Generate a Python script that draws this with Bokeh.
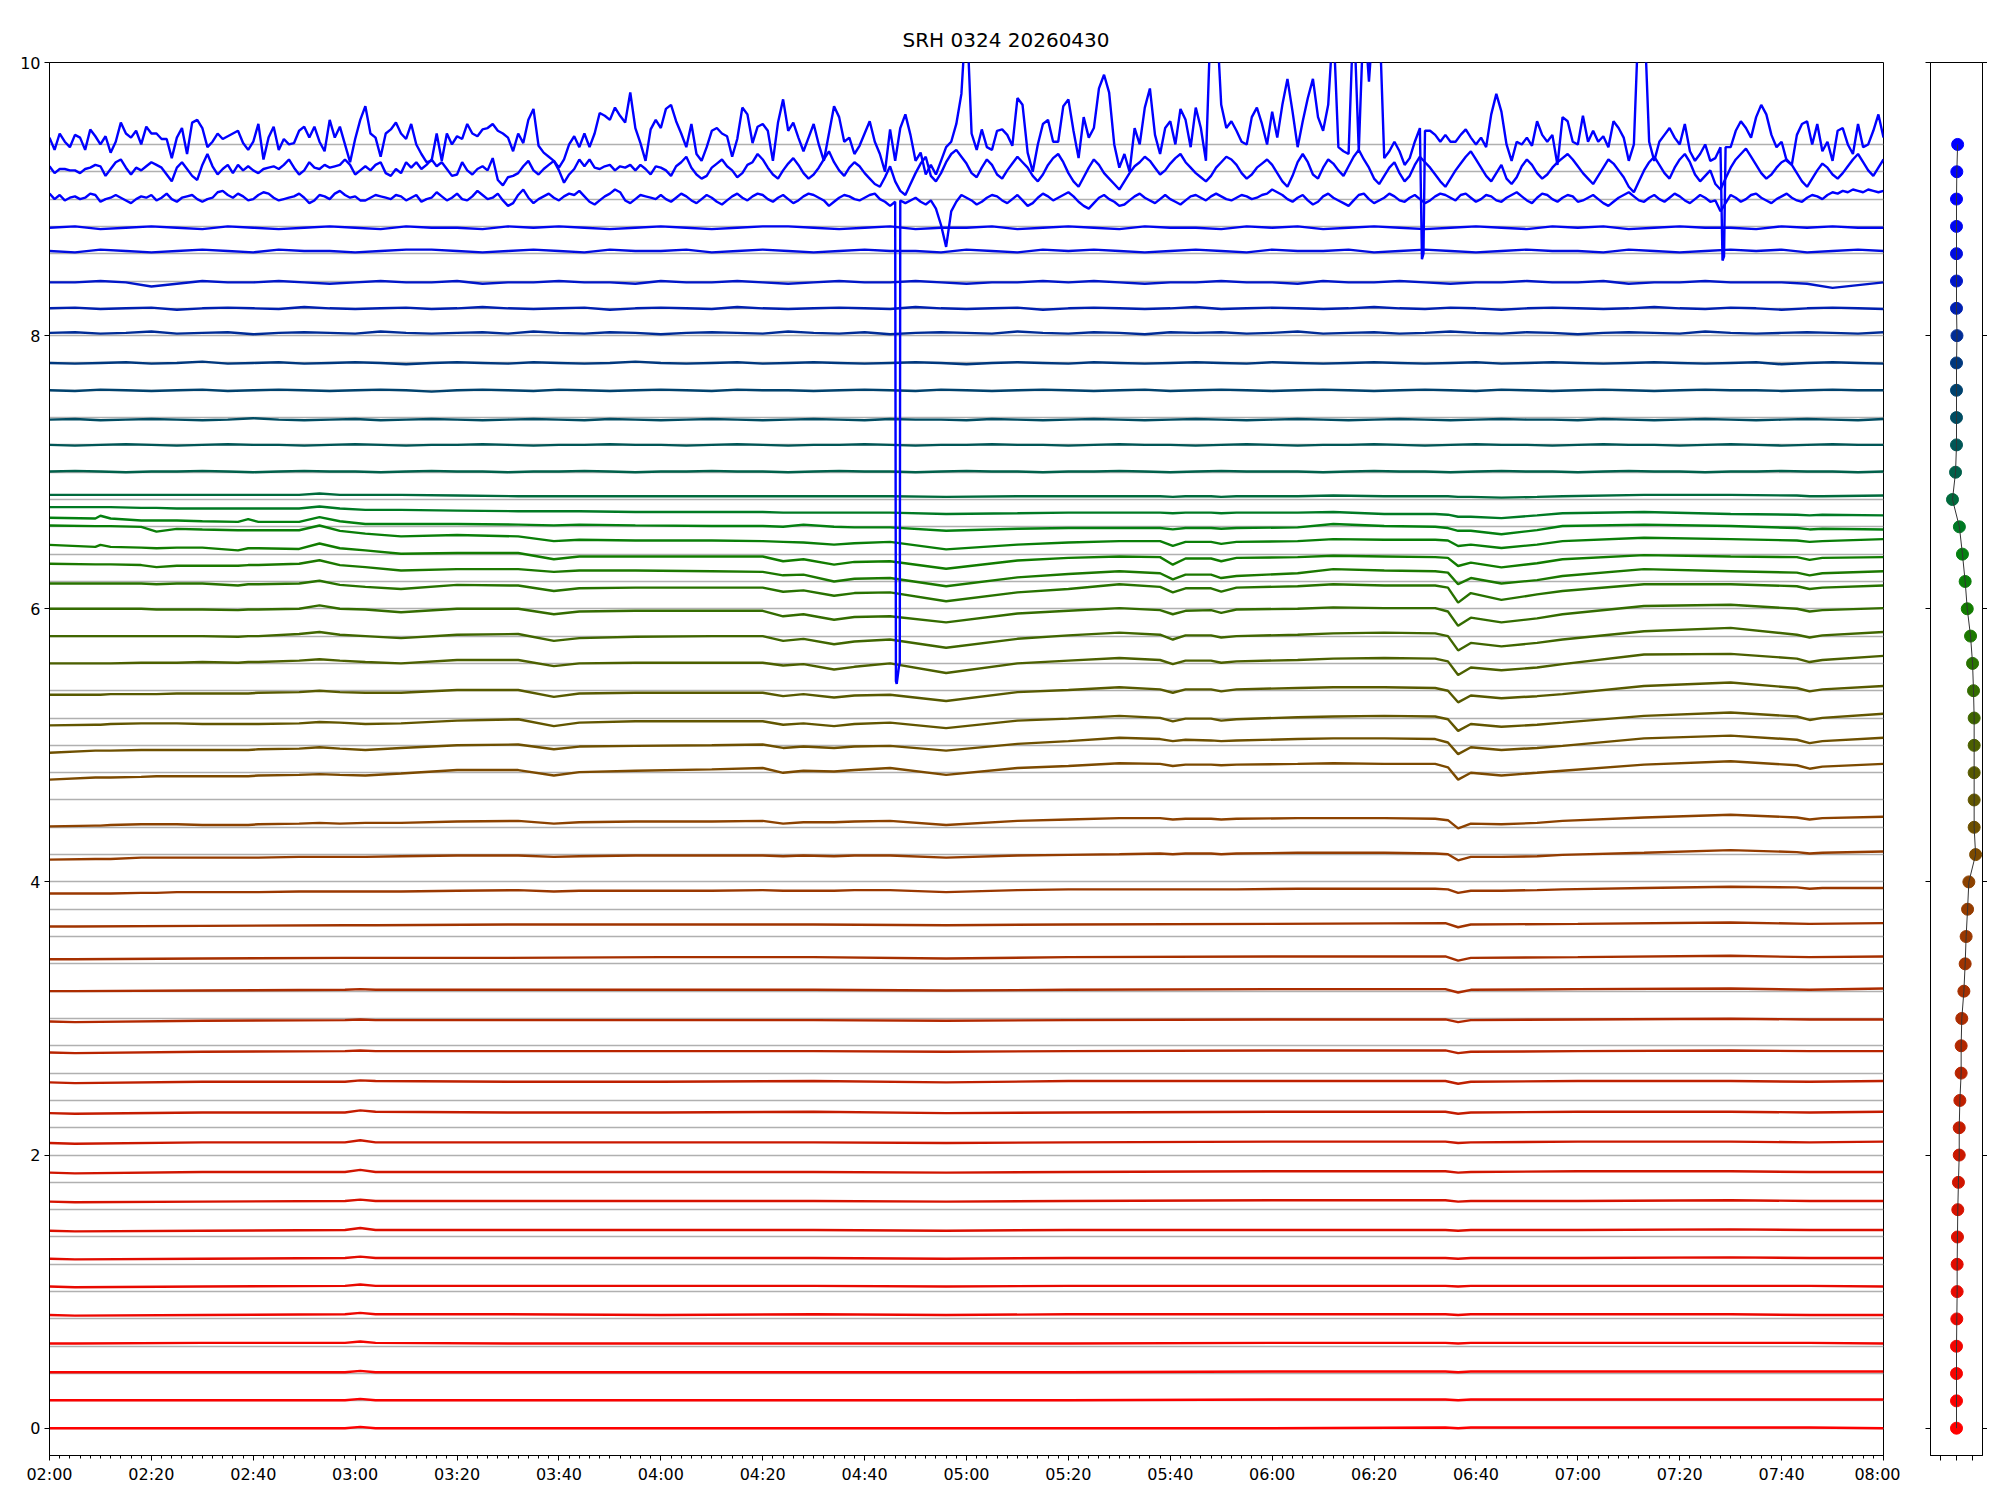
from bokeh.plotting import figure
from bokeh.layouts import row
from bokeh.models import FixedTicker, Range1d, LinearAxis, CustomJSTickFormatter
from bokeh.embed import file_html
from bokeh.resources import INLINE

TITLE = "SRH 0324 20260430"

# x axis: minutes since 00:00
X_TICKS = [120, 140, 160, 180, 200, 220, 240, 260, 280, 300, 320, 340, 360, 380, 400, 420, 440, 460, 480]
X_LABELS = ["02:00", "02:20", "02:40", "03:00", "03:20", "03:40", "04:00", "04:20", "04:40", "05:00",
            "05:20", "05:40", "06:00", "06:20", "06:40", "07:00", "07:20", "07:40", "08:00"]
Y_TICKS = [0, 2, 4, 6, 8, 10]

# channel positions (dots on side panel, horizontal guide lines)
CHANNEL_Y = [0.0, 0.2, 0.4, 0.6, 0.8, 1.0, 1.2, 1.4, 1.6, 1.8, 2.0, 2.2, 2.4, 2.6, 2.8, 3.0,
             3.2, 3.4, 3.6, 3.8, 4.0, 4.2, 4.4, 4.6, 4.8, 5.0, 5.2, 5.4, 5.6, 5.8, 6.0, 6.2,
             6.4, 6.6, 6.8, 7.0, 7.2, 7.4, 7.6, 7.8, 8.0, 8.2, 8.4, 8.6, 8.8, 9.0, 9.2, 9.4]
DOT_X = [0, 0, 0, 0, 0.02, 0.04, 0.04, 0.06, 0.08, 0.12, 0.17, 0.17, 0.21, 0.29, 0.29, 0.33,
         0.46, 0.54, 0.6, 0.69, 0.77, 1.19, 1.1, 1.1, 1.1, 1.1, 1.1, 1.06, 1.0, 0.875, 0.67, 0.54,
         0.37, 0.18, -0.25, -0.06, 0, 0, 0, 0, 0.03, 0, 0, 0, 0, 0, 0.02, 0.07]

COLORS = ["#ff0000", "#fb0100", "#f70300", "#f20500", "#ed0700", "#e80900", "#e20c00", "#dc0f00",
          "#d61200", "#d01500", "#ca1800", "#c41c00", "#be2000", "#b82400", "#b22800", "#ac2c00",
          "#a63000", "#a03400", "#9a3800", "#943c00", "#8c4200", "#7c4a00", "#6e5000", "#625600",
          "#585a00", "#4c6000", "#406600", "#346c00", "#287200", "#1c7800", "#127c00", "#0a7e08",
          "#048010", "#007a24", "#006a3c", "#00604a", "#005656", "#004c62", "#00426e", "#00387e",
          "#002c96", "#0020b0", "#0016c8", "#000ce0", "#0006f0", "#0000ff", "#0000ff", "#0000ff"]

# ---- channels 0..17 : quiet traces, values in 0.01 relative to level at 02:00
LOW_T = [0, 5, 30, 58, 61, 64, 90, 120, 150, 176, 200, 240, 274, 276.5, 279, 300, 330, 345.5, 360]
LOW_BASE = [0.0, 0.205, 0.41, 0.62, 0.829, 1.037, 1.241, 1.446, 1.659, 1.871, 2.088, 2.307,
            2.532, 2.751, 2.978, 3.20, 3.434, 3.673]
LOW_DEV = [
    [0, 0, 0, 0, 1, 0, 0, 0, 0, 0, 0, 0, 0.5, 0, 0.5, 0.5, 0.5, 0.5, 0],
    [0, 0, 0, 0, 1, 0, 0, 0, 0, 0, 0, 0.5, 0.5, 0, 0.5, 0.5, 0.5, 0.5, 0.5],
    [0, 0, 0, 0, 1, 0, 0, 0, 0, 0, 0, 0.5, 0.5, 0, 0.5, 0.5, 0.5, 0.5, 0.5],
    [0, 0, 0.5, 0.5, 1.5, 0.5, 0, 0, 0, 0, 0, 0.5, 0.5, 0, 0.5, 0.5, 0.5, 0.5, 0],
    [0, -0.5, 0, 0.5, 1.5, 0.5, 0.5, 0, 0.5, 0, 0.5, 0.5, 0.5, 0, 0.5, 0.5, 0.5, 0, 0],
    [0, -0.5, 0, 0.5, 1.5, 0.5, 0.5, 0.5, 0.5, 0, 0.5, 0.5, 0.5, 0, 0.5, 0.5, 0.5, 0.5, 0],
    [0, -0.5, 0, 0.5, 1.5, 0.5, 0.5, 0.5, 0.5, 0, 0.5, 0.5, 0.5, 0, 0.5, 0.5, 1, 0.5, 0.5],
    [0, -0.5, 0, 0.5, 2, 0.5, 0.5, 0.5, 0.5, 0, 0.5, 0.5, 0.5, 0, 0.5, 0.5, 1, 0.5, 0.5],
    [0, -0.5, 0, 0.5, 1.5, 0.5, 0.5, 0.5, 0.5, 0, 0.5, 1, 1, 0, 0.5, 0.5, 1, 0.5, 0.5],
    [0, -0.5, 0.5, 0.5, 2, 0.5, 0.5, 0.5, 0.5, 0, 0.5, 1, 1, 0, 0.5, 1, 1, 0.5, 0.5],
    [0, -0.5, 0.5, 0.5, 2, 0.5, 0.5, 0.5, 0.5, 0, 0.5, 1, 1, 0, 0.5, 1, 1, 0.5, 1],
    [0, -0.5, 0.5, 0.5, 2, 1, 0.5, 0.5, 1, 0, 0.5, 1, 1, -0.5, 0.5, 1, 1, 0.5, 1],
    [0, -0.5, 0.5, 0.5, 1.5, 1, 0.5, 0.5, 1, 0, 1, 1, 1, -1, 0.5, 1, 1, 0.5, 1],
    [0, -0.5, 0.5, 1, 1.5, 1, 1, 1, 1, 0.5, 1, 1.5, 1.5, -0.5, 0.5, 1, 1.5, 1, 1],
    [0, -0.5, 0.5, 1, 1.5, 1, 1, 1, 1, 0.5, 1, 1.5, 1.5, -0.5, 1, 1.5, 2, 1.5, 1.5],
    [0, 0, 0.5, 1, 1.5, 1, 1, 1, 1, 0.5, 1, 1.5, 1.5, -1, 1, 1.5, 2, 1, 2],
    [0, 0, 0.5, 1, 1, 1, 1, 1.5, 1.5, 0.5, 1.5, 2, 2, -1, 1, 1.5, 2.5, 1.5, 2],
    [0, 0, 0.5, 1, 1, 1, 1.5, 1.5, 1.5, 1, 1.5, 2, 2.5, -0.5, 1.5, 2, 3, 2, 2.5],
]

# ---- channels 18..34 : traces with the dips, values in 0.01 relative to level at 02:00
GREEN_T = [0, 9, 10, 12, 18, 21, 25, 30, 37, 39, 41, 49, 53, 57, 62, 69, 80, 92, 99, 104,
           115, 130, 140, 144, 148, 154, 158, 165, 176, 190, 200, 210, 218, 220.5, 223, 228, 230,
           233, 245, 252, 262, 272, 274.5, 276.5, 279, 285, 292, 297, 313, 330, 343, 345.5, 348, 360]
GREEN_BASE = [3.915, 4.163, 4.407, 4.749, 4.946, 5.146, 5.37, 5.60, 5.80, 6.00, 6.185, 6.33,
              6.468, 6.61, 6.666, 6.744, 6.834]
GREEN_DEV = [
    [0, 0, 0, 0, 0.5, 0.5, 1, 1, 1, 1, 1, 1.5, 1.5, 1.5, 1.5, 1.5, 2, 2.5, 1.5, 2, 2, 2, 2.5, 2, 2, 2, 2.5, 2.5, 1, 2.5,
     3, 3, 3, 3, 3, 3, 3, 3, 3.5, 3.5, 3.5, 3.5, 3, 0.5, 2, 2, 2.5, 3, 4, 5, 4.5, 3.5, 4, 4],
    [0, 0.5, 0.5, 0.5, 1.5, 1.5, 1.5, 1.5, 1.5, 1.5, 1.5, 2, 2, 2, 2, 2.5, 3, 3, 2, 2.5, 3, 3, 3, 2.5, 3, 2.5, 3, 3, 1.5, 3,
     3.5, 4, 4.5, 4, 4.5, 4.5, 4, 4.5, 5, 5, 5, 4.5, 4, -0.5, 2, 2, 2.5, 3.5, 5, 7, 5.5, 4.5, 5, 6],
    [0, 0.5, 0.5, 1, 1.5, 1.5, 1.5, 1, 1, 1, 1.5, 2, 2.5, 2, 2.5, 2.5, 3.5, 4, 2, 3, 3.5, 3.5, 4, 2, 3, 3, 3.5, 4, 1, 4,
     5, 6, 6, 5, 5.5, 5.5, 5, 5.5, 6, 6, 6, 5.5, 4.5, -1.5, 2, 1.5, 2.5, 4, 6.5, 8.5, 6.5, 5, 6, 7],
    [0, 1.5, 1.5, 1.5, 2, 2.5, 2.5, 2.5, 2.5, 2.5, 3, 3.5, 4, 3.5, 3, 4.5, 7, 7, 3, 5.5, 6.5, 7.5, 8.5, 5, 6.5, 6, 7, 8.5, 3.5, 8.5,
     10, 12, 11.5, 10, 11, 11, 10.5, 11, 11.5, 12, 11.5, 11.5, 9, 0, 5, 3, 5, 6.5, 11, 13.5, 10.5, 8, 9.5, 11.5],
    [0, 1.5, 1.5, 1.5, 2, 2, 2, 2, 2, 2, 2.5, 3, 4, 3, 2, 3.5, 5.5, 6, 2.5, 4.5, 5, 5.5, 6, 3.5, 4.5, 3.5, 4.5, 5, 1.5, 6.5,
     8.5, 11, 10, 8.5, 9.5, 9, 8.5, 9, 10, 10.5, 10.5, 10, 7.5, -1, 4, 2, 3.5, 5, 10.5, 12.5, 9.5, 7, 8.5, 11],
    [0, 0.5, 0.5, 1, 1.5, 1.5, 1.5, 1, 1, 1, 1, 1.5, 2.5, 2, 1, 1.5, 3.5, 4.5, -0.5, 2, 3, 3, 3, 0.5, 1.5, -0.5, 1, 2, -2, 3.5,
     5, 7, 5.5, 3, 5, 5, 3.5, 4.5, 6, 6.5, 7, 6.5, 4.5, -4, 1, -1, 0.5, 2, 7, 9.5, 6.5, 4, 5.5, 8.5],
    [0, 0, 0, 0.5, 0.5, 0.5, 1, 1, 1, 1, 1.5, 2, 3, 2, 1.5, 1.5, 3.5, 3.5, -1.5, 1, 1.5, 1.5, 1.5, -1, 0.5, -2, -0.5, 0, -4.5, 2,
     3.5, 5.5, 4, 1.5, 4, 4, 2.5, 4, 5, 5.5, 5.5, 5, 3, -5.5, -0.5, -2.5, -1, 0.5, 6.5, 9, 5, 2.5, 4, 6.5],
    [0, 0, 0, 0, 0.5, 0.5, 0.5, 1, 0.5, 1, 1, 2, 3, 2, 1, 0, 2.5, 2.5, -2, 0, 0.5, 0.5, 0.5, -1.5, -0.5, -4.5, -2.5, 0, -7, 0,
     2, 4, 2.5, -0.5, 2, 2, 0.5, 1.5, 2.5, 3.5, 4, 3.5, 1.5, -8.5, -3, -5, -3, -0.5, 6.5, 7, 3.5, 1, 2.5, 5.5],
    [0, 0, 0, 0, 0, 0, 0, 0, -0.5, 0, 0, 1.5, 3, 1, 0, -1.5, 1, 1.5, -3.5, -1.5, -0.5, 0, 0, -3.5, -2, -6, -4, -2.5, -8.5, -2,
     0.5, 2.5, 1, -2.5, 0.5, 0.5, -1, 0, 1, 2, 2.5, 2, 0, -10.5, -5, -7.5, -5, -2.5, 3.5, 6, 1, -1, 0.5, 3],
    [0, 0, 0, 0, 0, -0.5, -0.5, -0.5, -1, -0.5, -0.5, 0, 2.5, 0, -0.5, -2.5, 0, 0, -4, -2, -1.5, -1.5, -1.5, -5.5, -4, -8, -6, -5.5, -10, -3.5,
     -1.5, 0.5, -1, -4, -1.5, -1, -3, -0.5, 0, 1, 0.5, 0.5, -2, -12.5, -6.5, -10, -7, -4, 2, 3, 0, -2, -1, 0.5],
    [0, 0, 0, 0, 0, -0.5, 0, 0, -1.5, -0.5, -0.5, 0, 2, -1, -2.5, -4, -1, -1.5, -5.5, -3.5, -3, -3, -3, -6, -5, -9, -7, -6.5, -13, -6.5,
     -4, -0.5, -2.5, -6.5, -3.5, -3.5, -6, -3, -2, -0.5, -1.5, -1.5, -3, -14, -7, -12, -8, -5.5, -0.5, -0.5, -2, -4, -3, -1.5],
    [0, -0.5, -0.5, -0.5, -1, -2.5, -1.5, -1.5, -1.5, -1, -1, 0, 2.5, -1, -2.5, -5, -4, -4, -6, -5, -5, -5.5, -6, -8.5, -8, -13, -11, -10.5, -16.5, -10,
     -7.5, -5.5, -7, -11.5, -8, -8, -10.5, -9, -7, -4, -5, -5.5, -6.5, -15, -10.5, -14.5, -12, -9, -4, -5.5, -6.5, -8.5, -7, -5.5],
    [0, -1.5, 0, -1.5, -2, -2.5, -2, -2, -4, -2.5, -2.5, -3, 1, -2.5, -4, -6.5, -6, -6, -10.5, -8.5, -8.5, -8.5, -8.5, -12, -10.5, -14.5, -12.5, -12, -17.5, -11.5,
     -9.5, -8.5, -9, -14.5, -10, -10, -12, -9.5, -9, -8, -8.5, -9, -9.5, -15.5, -13, -16.5, -13.5, -10.5, -7.5, -8.5, -9, -11, -9.5, -9],
    [0, -0.5, -0.5, -0.5, -1, -4.5, -2.5, -3, -3.5, -3.5, -3.5, -3.5, 0, -4, -6, -8, -7, -8, -11.5, -10.5, -11, -11, -11.5, -12, -12.5, -14, -13, -12, -17.5, -14,
     -12.5, -11.5, -11.5, -15, -12, -12, -13.5, -12, -11.5, -10, -10.5, -10.5, -11, -15, -14, -16.5, -14, -11.5, -9, -10, -11, -12, -11.5, -10],
    [0, -0.5, 1.5, -0.5, -2, -2, -2, -2.5, -3, -1, -3, -3, 0.5, -2.5, -4.5, -4.5, -4.5, -5, -5.5, -5, -5.5, -6, -6, -6.5, -5, -6.5, -7, -7, -9.5, -8,
     -7.5, -7.5, -7.5, -8.5, -7.5, -7.5, -8, -7.5, -7, -4.5, -6, -6.5, -7.5, -9.5, -9.5, -12, -9, -6, -5, -6, -7.5, -8.5, -8, -8.5],
    [0, 0, 0, 0, -0.5, -0.5, -1, -1, -1, -1, -1, -1, 0.5, -1, -2, -2, -2.5, -3, -3, -3, -3.5, -3.5, -3.5, -4, -4, -4, -4, -4, -5, -4.5,
     -4, -4, -4, -4.5, -4, -4, -4.5, -4, -4, -3.5, -5, -5, -5.5, -7, -7, -8, -6, -4.5, -3.5, -5, -5.5, -6, -5.5, -6],
    [0, 0, 0, 0, 0, 0, 0, 0, 0, 0, 0, 0, 1, 0, 0, 0, -0.5, -1, -1, -1, -1, -1, -1, -1, -1, -1, -1, -1, -1.5, -1,
     -1, -1, -1, -1.5, -1, -1, -1.5, -1, -1, -0.5, -1, -1, -1, -1.5, -1.5, -2, -1.5, -1, 0, 0, -0.5, -1, -1, -0.5],
]

# ---- channels 35..44 : small wiggles, one value every 5 minutes from 02:00 (0.01 units)
MID_STEP = 5
MID_BASE = [7.005, 7.20, 7.385, 7.60, 7.80, 8.02, 8.20, 8.39, 8.62, 8.79]
MID_DEV = [
    [0, 0.5, 0, -0.5, 0, 0, 0.5, 0, -0.5, 0, 0.5, 0, 0, -0.5, 0, 0.5, 0, 0, -0.5, 0, 0, 0.5, 0, -0.5, 0, 0, 0.5, 0, 0, -0.5,
     0, 0.5, 0, 0, -0.5, 0, 0.5, 0, 0, -0.5, 0, 0, 0.5, 0, -0.5, 0, 0.5, 0, 0, 0, -0.5, 0, 0.5, 0, 0, -0.5, 0, 0.5, 0, 0,
     -0.5, 0, 0.5, 0, 0, -0.5, 0, 0, 0.5, 0, 0, -0.5, 0],
    [0, -0.5, 0, 0.5, 0, -0.5, 0, 0.5, 0, 0, -0.5, 0, 0.5, 0, -0.5, 0, 0, 0.5, 0, -0.5, 0, 0, 0.5, 0, 0, -0.5, 0, 0.5, 0, -0.5,
     0, 0, 0.5, 0, -0.5, 0, 0, 0.5, 0, 0, -0.5, 0, 0.5, 0, 0, -0.5, 0, 0.5, 0, -0.5, 0, 0, 0.5, 0, -0.5, 0, 0.5, 0, 0, -0.5,
     0, 0.5, 0, 0, -0.5, 0, 0.5, 0, -0.5, 0, 0.5, 0, 0],
    [0, 0.5, -0.5, 0, 0.5, 0, -0.5, 0, 1, 0, -0.5, 0, 0.5, -0.5, 0, 0.5, 0, -0.5, 0, 0.5, 0, -0.5, 0.5, 0, -0.5, 0, 0.5, 0, -0.5, 0,
     0.5, 0, -0.5, 0.5, 0, 0, -0.5, 0.5, 0, -0.5, 0, 0.5, 0, -0.5, 0, 0.5, 0, -0.5, 0, 0.5, 0, -0.5, 0, 0.5, 0, -0.5, 0, 0.5, 0, 0,
     -0.5, 0.5, 0, -0.5, 0, 0.5, 0, -0.5, 0, 0.5, 0, -0.5, 0.5],
    [0, -0.5, 0.5, 0, -0.5, 0, 0.5, -0.5, 0, 0.5, 0, -0.5, 0, 0.5, 0, -1, 0, 0.5, 0, -0.5, 0.5, 0, -0.5, 0, 0.5, 0, -0.5, 0.5, 0, 0,
     -0.5, 0, 0.5, 0, -0.5, 0.5, 0, -0.5, 0, 0.5, 0, -0.5, 0, 0.5, -0.5, 0, 0.5, 0, -0.5, 0, 0.5, 0, -0.5, 0, 0.5, 0, -0.5, 0.5, 0, -0.5,
     0, 0.5, 0, -0.5, 0, 0.5, 0, 0, -0.5, 0, 0.5, 0, 0],
    [0, -0.5, 0, 0.5, -0.5, 0, 1, -0.5, 0, 0.5, -0.5, 0, 0.5, 0, -1, 0, 0.5, 0, -0.5, 0.5, 0, -0.5, 0, 1, 0, -0.5, 0, 0.5, -0.5, 0,
     0.5, 0, -0.5, 0, 0.5, 0, -1, 0, 0.5, 0, -0.5, 0.5, 0, -0.5, 0, 0.5, 0, -0.5, 0.5, 0, -0.5, 0, 0.5, 0, -0.5, 0, 0.5, -0.5, 0, 0.5,
     0, -0.5, 0, 0.5, 0, -0.5, 0, 0.5, -1, 0, 0.5, 0, -0.5],
    [0, 0.5, -0.5, 0, 1, -0.5, 0, 0.5, -1, 0, 0.5, 0, -0.5, 1, 0, -0.5, 0, 0.5, -0.5, 1, 0, -0.5, 0.5, 0, -1, 0, 0.5, 0, -0.5, 1,
     0, -0.5, 0.5, -1, 0, 0.5, 0, -0.5, 1, 0, -0.5, 0.5, 0, -1, 0.5, 0, 0.5, -0.5, 0, 1, -0.5, 0, 0.5, -0.5, 0, 1, 0, -0.5, 0.5, 0,
     -1, 0, 0.5, 0, -0.5, 1, 0, -0.5, 0, 0.5, 0, -0.5, 0.5],
    [0, 0.5, -0.5, 0, 0.5, -1, 0, 0.5, 0, -0.5, 1, 0, -0.5, 0, 0.5, -0.5, 0, 1, 0, -0.5, 0, 0.5, -1, 0, 0.5, 0, -0.5, 1, 0, -0.5,
     0, 0.5, 0, -0.5, 1, 0, -0.5, 0, 0.5, -1, 0, 0.5, 0, -0.5, 0, 1, -0.5, 0, 0.5, 0, -0.5, 0, 1, 0, -0.5, 0.5, 0, -1, 0, 0.5,
     0, -0.5, 0, 1, 0, -0.5, 0.5, 0, -1, 0, 0.5, 0, -0.5],
    [0, 0, 1, 0, -3, -1, 1, 0, 0, 1, 0, -1, 0, 1, 0, 0, 1, -1, 0, 0, 1, 0, 0, -1, 1, 0, 0, 1, 0, -1,
     0, 1, 0, 0, 1, 0, -1, 0, 0, 1, 0, 1, 0, -1, 0, 0, 1, 0, 0, -1, 1, 0, 0, 1, 0, -1, 0, 0, 1, 0,
     0, 1, -1, 0, 0, 1, 0, 0, 0, -1, -4, -2, 0],
    [0, -1, 1, 0, -1, 0, 1, 0, -1, 1, 0, 0, -1, 0, 1, 1, 0, -1, 0, 1, 0, -1, 1, 0, 0, 1, -1, 0, 1, 0,
     -1, 0, 1, 0, 0, -1, 1, 0, -1, 1, 0, 1, 0, -1, 0, 1, 0, -1, 1, 0, 0, 1, -1, 0, 1, 0, -1, 0, 1, 0,
     0, -1, 1, 0, -1, 0, 1, 0, 1, -1, 0, 1, 0],
    [0, 1, -1, 0, 1, 0, -1, 1, 0, -1, 0, 1, 0, -1, 1, 0, 0, -1, 1, 0, 1, 0, -1, 0, 1, 0, -1, 0, 1, 1,
     0, -1, 0, 1, -1, 0, 0, 1, -1, 0, 1, 0, -1, 1, 0, 0, -1, 1, 0, 1, -1, 0, 1, 0, -1, 0, 1, 0, -1, 1,
     0, 1, -1, 0, 1, 0, 0, -1, 1, 0, 1, 0, 0],
]

# ---- channels 45..47 : noisy traces, one value per minute (0.01 units), three 2-hour parts
FINE_BASE = [9.01, 9.21, 9.40]
CH45_A = [3, -1, 2, -2, 0, 1, -1, 0, 3, 2, -3, -1, 0, 2, 0, -2, -4, -1, 1, 0, 2, -2, 0, 3, -1, -3, 0, 1, 2, -1,
          -3, -1, 0, 4, 5, 2, 0, 3, 1, -2, -1, 2, 4, 3, 0, -2, -1, 0, 1, 3, 0, -4, -2, 2, 1, -1, 3, 5, 2, 0,
          1, -2, -2, 0, 2, 1, 0, -1, 2, 1, -2, 0, 2, -3, -1, 0, 4, 1, -2, 0, 3, -1, -2, 1, 5, 2, -1, 0, 3, -2,
          -6, -4, 2, 6, 0, -4, -1, 1, 3, 0, -2, 1, 3, 2, 5, 1, -3, -5, -2, 1, 3, 6, 4, -2, -4, -1, 2, 1, 0, -1]
CH45_B = [2, -1, -3, 0, 3, 1, -2, -4, -1, 2, 0, -3, -5, -2, 1, 3, 0, -2, 1, 3, 2, -1, -3, 0, 2, -1, -4, -2, 1, 3,
          2, 0, -2, -6, -3, 0, 2, 1, -1, -2, 0, 2, 3, -1, -3, -6, -3, -2, -4, -2, 0, -3, -5, -2, -8, -20, -36, -10, -3, 2,
          0, -2, -5, -3, 0, 2, 1, -2, -4, -1, 2, -2, -6, -4, 0, 3, 1, -2, 0, 2, 4, 1, -3, -6, -8, -4, 0, 2, -1, -3,
          -6, -5, -2, 1, 3, 0, -2, -4, -1, 2, -1, -3, -5, -2, 1, 2, 0, -2, 1, 3, 1, -1, -2, 0, 2, 1, -1, 0, 2, 3]
CH45_C = [6, 4, 2, -1, -3, 0, 2, -2, -5, -3, 1, 3, 0, -2, -4, -6, -2, 2, 3, -1, -4, -2, 0, 3, 1, -2, -3, 0, 2, -1,
          -4, -2, 1, 3, 2, 0, -2, 2, 3, 0, -3, -1, 2, 1, -2, -3, 0, 2, 4, 1, -2, -4, 0, 3, 2, -1, -3, 0, 2, 1,
          -3, -2, 0, 2, -1, -4, -6, -3, 0, 2, 4, 1, -2, -3, 0, 2, -1, -3, 0, 3, 1, -2, -4, -1, 2, 0, -3, -2, -10, -4,
          2, 0, -3, -1, 2, 3, 0, -2, -4, -1, 1, 3, 0, -2, -3, 0, 2, 1, -1, 2, 4, 3, 5, 4, 6, 5, 4, 6, 5, 4, 5]
CH46_A = [3, -2, 1, 1, 0, 0, -2, 1, 2, 4, 3, -4, 1, 6, 8, 2, -3, 2, 0, 3, 6, 4, 2, -3, -8, 2, 6, 1, -4, -7,
          4, 12, 3, -3, 1, 4, -2, 4, 0, 3, 0, -2, 1, 2, 3, 1, 4, 8, 2, -3, 0, 6, 2, 1, 4, 2, 3, 4, 8, 4,
          -3, 0, 3, 0, 4, 6, -2, -4, 1, -2, 6, 2, 6, 1, 4, 8, 3, 6, 1, -4, -3, 6, 0, -3, 1, 3, 0, 9, -7, -11,
          -5, -4, -2, 3, 7, 0, -3, 1, 4, 7, 0, -9, -3, 1, 8, 3, 8, 2, 1, 3, 4, 0, 3, 2, 4, 0, 4, 1, -3, 3]
CH46_B = [2, 0, -4, 3, 6, 10, 2, -3, -6, -4, 2, 5, 8, 3, 0, -5, -2, 4, 6, 12, 8, 2, -3, -6, 0, 5, 9, 4, -2, -6,
          -3, 2, 8, 14, 6, 0, -4, 2, 6, 3, -2, -6, -10, -12, -5, 3, -8, -15, -18, -10, -2, 5, 10, -4, -8, -2, 6, 12, 15, 10,
          5, -2, -5, 2, 8, 4, -3, -6, 0, 5, 10, 6, 2, -4, -8, -3, 4, 9, 12, 6, -2, -8, -12, -5, 2, 8, 4, -2, -6, -10,
          -14, -8, -2, 3, 6, 10, 7, 2, -3, 0, 5, 9, 12, 6, 2, -2, -5, -8, -4, 2, 6, 10, 8, 4, -2, -6, -3, 2, 5, 8]
CH46_C = [4, -2, -8, -12, -4, 6, 12, 6, -3, -6, 2, 8, 5, 0, -4, 3, 10, 15, 8, 2, -6, -10, -4, 2, 6, -2, -8, -4, 4, 10,
          6, 2, -3, -8, -12, -6, 0, 5, 10, 14, 8, 2, -4, -8, -2, 4, -6, -10, -5, 3, 8, 4, -2, -6, -3, 2, 6, 9, 12, 8,
          3, -2, -6, -10, -4, 2, 8, 5, 0, -5, -12, -16, -8, 0, 6, 10, 4, -2, -6, 2, 8, 12, 6, -3, -8, -4, 0, -10, -14, -6,
          2, 8, 12, 16, 10, 4, -2, -6, -3, 2, 6, 8, 4, -2, -8, -12, -6, 0, 5, 2, -3, -6, -2, 3, 8, 12, 6, 0, -4, 2, 8]
CH47_A = [5, -4, 8, 2, -2, 7, 5, -4, 11, 6, 0, 6, -6, 2, 16, 8, 5, 10, 0, 13, 8, 8, 4, 4, -10, 5, 12, -7, 16, 18,
          12, -2, 2, 8, 4, 6, 8, 10, 1, -4, 2, 15, -11, 5, 13, -4, 4, 0, 1, 10, 13, 5, 13, 2, -5, 18, 5, 13, 0, -13,
          4, 18, 28, 8, 5, -9, 8, 11, 16, 8, 4, 15, 0, -7, -13, -12, 8, -12, 8, 0, 6, 4, 15, 8, 6, 11, 12, 15, 10, 8,
          5, -5, 8, 1, 18, 26, -1, -6, -9, -12, -17, -11, 0, 6, -2, 8, -2, 8, 23, 21, 18, 27, 21, 16, 38, 12, 1, -12, 11, 18]
CH47_B = [12, 26, 29, 17, 8, -2, 15, -7, -12, -2, 10, 12, 8, 6, -9, 4, 27, 22, 1, 13, 15, 10, -12, 16, 33, 10, 16, 5, -5, 5,
          15, 0, -12, 8, 28, 20, 2, 5, -7, -1, 8, 17, 2, -7, -20, 11, -12, 12, 22, 7, -12, -6, -22, -15, -22, -12, -2, 2, 15, 37,
          100, 8, -4, 11, -2, -4, 10, 11, 7, -1, 34, 29, -6, -20, 0, 15, 18, 2, 2, 28, 33, 10, -10, 20, 5, 12, 41, 51, 38, 0,
          -17, -7, -20, 12, 0, 27, 41, 7, -7, 12, 17, 0, 26, 18, -2, 27, 12, -12, 100, 100, 29, 12, 17, 10, 2, 0, 20, 27, 15, 0]
CH47_C = [24, 5, 29, 48, 24, -2, 17, 34, 48, 20, 10, 29, 90, -2, -5, -7, 100, -5, 100, 46, 100, 100, -10, -5, 2, -5, -15, -10, 2, 12,
          10, 10, 7, 2, 7, 2, 2, 7, 11, 5, 0, 5, -2, 22, 37, 24, 0, -12, 2, 0, 5, -1, 17, 7, 2, 7, -15, 20, 17, 2,
          0, 21, 2, 10, 2, 6, -2, 17, 12, 5, -12, 0, 100, 100, 2, -12, 2, 7, 12, 5, 0, 15, -5, -12, -7, 0, -12, -10, -2, -2,
          -2, 10, 17, 12, 5, 20, 29, 22, 7, -2, 2, -12, -15, 7, 15, 17, 0, 15, -5, 2, -12, 10, 12, 0, -7, 15, -2, 0, 10, 22, 5]

# short excursions read between grid points: (channel, minutes after 02:00, value in 0.01)
EVENTS = [(45, 166.15, -354), (45, 166.3, -356), (45, 166.75, -343), (45, 166.9, -341),
          (47, 269.4, -84), (47, 269.7, -80), (47, 328.4, -85), (47, 328.7, -82)]

FONT = "DejaVu Sans"
T0 = 120  # 02:00 in minutes since midnight

# ------------------------------------------------------------------ build series
BASES = LOW_BASE + GREEN_BASE + MID_BASE + FINE_BASE
series = []
for devs in LOW_DEV:
    series.append([[T0 + t for t in LOW_T], list(devs)])
for devs in GREEN_DEV:
    series.append([[T0 + t for t in GREEN_T], list(devs)])
for devs in MID_DEV:
    series.append([[T0 + MID_STEP * k for k in range(len(devs))], list(devs)])
for parts in ((CH45_A, CH45_B, CH45_C), (CH46_A, CH46_B, CH46_C), (CH47_A, CH47_B, CH47_C)):
    xs, ds = [], []
    for start, part in zip((0, 120, 240), parts):
        xs += [T0 + start + k for k in range(len(part))]
        ds += list(part)
    series.append([xs, ds])
for ch, t, d in EVENTS:
    series[ch][0].append(T0 + t)
    series[ch][1].append(d)

# ------------------------------------------------------------------ main figure
p = figure(frame_width=1834, frame_height=1393,
           x_range=Range1d(120, 480), y_range=Range1d(-0.2, 10),
           output_backend="svg", toolbar_location=None, title=TITLE,
           min_border_left=49, min_border_right=17, min_border_top=62, min_border_bottom=30)
# the title is centred on the whole picture, not on the plot frame
p.title.align = "left"
p.title.offset = 853
p.title.text_font = FONT
p.title.text_font_size = "20px"
p.title.text_font_style = "normal"
p.title.text_color = "black"
p.title.standoff = 21

p.xaxis.ticker = FixedTicker(ticks=X_TICKS, minor_ticks=list(range(120, 481, 2)))
p.xaxis.major_label_overrides = dict(zip(X_TICKS, X_LABELS))
p.yaxis.ticker = FixedTicker(ticks=Y_TICKS)
for ax in (p.xaxis, p.yaxis):
    ax.major_label_text_font = FONT
    ax.major_label_text_font_size = "16px"
    ax.major_label_text_color = "black"
    ax.axis_line_color = "black"
    ax.major_tick_line_color = "black"
    ax.minor_tick_line_color = "black"
    ax.major_tick_in = 0
    ax.major_tick_out = 5
    ax.minor_tick_in = 0
    ax.minor_tick_out = 3
    ax.major_label_standoff = 4
p.yaxis.minor_tick_line_color = None
p.xgrid.visible = False
p.ygrid.ticker = FixedTicker(ticks=CHANNEL_Y)
p.ygrid.grid_line_color = "#b0b0b0"
p.ygrid.grid_line_width = 1.3
p.outline_line_color = "black"
p.outline_line_width = 1
p.background_fill_color = "white"
p.border_fill_color = "white"

for ch, (xs, ds) in enumerate(series):
    pairs = sorted(zip(xs, ds), key=lambda q: q[0])
    x = [q[0] for q in pairs]
    y = [BASES[ch] + q[1] / 100.0 for q in pairs]
    p.line(x, y, line_color=COLORS[ch], line_width=2.4)

# ------------------------------------------------------------------ side panel
blank = CustomJSTickFormatter(code="return ''")
p2 = figure(frame_width=52, frame_height=1393,
            x_range=Range1d(-1.62, 1.62), y_range=Range1d(-0.2, 10),
            output_backend="svg", toolbar_location=None,
            min_border_left=30, min_border_right=0, min_border_top=62, min_border_bottom=30)
p2.xaxis.ticker = FixedTicker(ticks=[-1, 0, 1])
p2.yaxis.ticker = FixedTicker(ticks=Y_TICKS)
p2.add_layout(LinearAxis(ticker=FixedTicker(ticks=Y_TICKS)), "right")
for ax in p2.axis:
    ax.formatter = blank
    ax.axis_line_color = "black"
    ax.major_tick_line_color = "black"
    ax.minor_tick_line_color = None
    ax.major_tick_in = 0
    ax.major_tick_out = 5
    ax.major_label_standoff = 0
p2.grid.visible = False
p2.outline_line_color = "black"
p2.background_fill_color = "white"
p2.border_fill_color = "white"
p2.scatter(DOT_X, CHANNEL_Y, size=12, fill_color=COLORS, line_color=COLORS)
p2.line(DOT_X, CHANNEL_Y, line_color="#333333", line_width=1)

layout = row(p, p2)
open("out.html", "w").write(file_html(layout, INLINE, title=TITLE))
